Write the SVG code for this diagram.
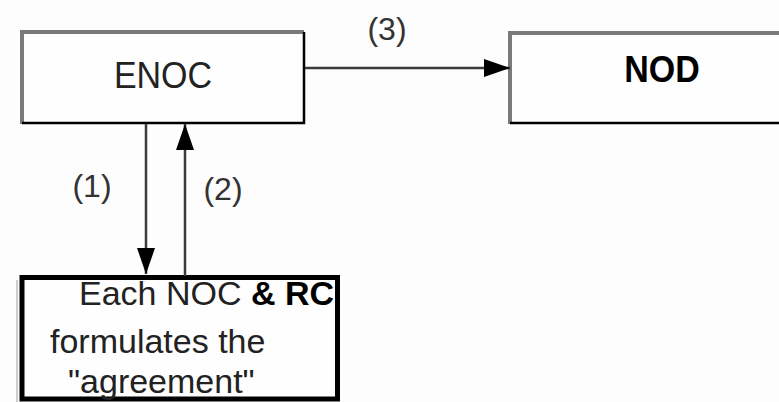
<svg xmlns="http://www.w3.org/2000/svg" width="779" height="402" viewBox="0 0 779 402">
  <style>
    .txt { font-family: "Liberation Sans", Arial, sans-serif; font-size: 34px; fill: #222; }
    .bold { font-weight: bold; fill: #000; }
    .lbl { font-family: "Liberation Sans", Arial, sans-serif; font-size: 32px; fill: #333; text-anchor: middle; }
    .edge { stroke: #3a3a3a; stroke-width: 2.5; fill: none; }
    .shade { stroke: #7a7a7a; stroke-width: 4; fill: none; }
    .dark { stroke: #000; stroke-width: 2.5; fill: none; }
  </style>
  <defs>
    <marker id="head" markerUnits="userSpaceOnUse" markerWidth="28" markerHeight="20" refX="26" refY="9" orient="auto">
      <path d="M0,0 L26,9 L0,18 Z" fill="#000"/>
    </marker>
  </defs>
  <rect width="779" height="402" fill="#fdfdfd"/>

  <g id="enoc">
    <rect x="22" y="32" width="282" height="91" fill="#fefefe"/>
    <path class="shade" d="M22,124 V32 H304"/>
    <path class="dark" d="M304,32 V123 H22"/>
    <text class="txt" x="163" y="88" text-anchor="middle" transform="translate(0,-8.8) scale(1,1.1)">ENOC</text>
  </g>

  <g id="nod">
    <rect x="510" y="32" width="280" height="91" fill="#fefefe"/>
    <path class="shade" d="M510,124 V33 H780"/>
    <path class="dark" d="M510,123 H780"/>
    <text class="txt bold" x="662" y="82" text-anchor="middle" transform="translate(0,-8.2) scale(1,1.1)">NOD</text>
  </g>

  <g id="noc-rc">
    <line x1="17" y1="280" x2="17" y2="402" stroke="#bdbdbd" stroke-width="1.5"/>
    <rect x="22" y="277.5" width="315.5" height="121.5" fill="#fefefe" stroke="#000" stroke-width="5"/>
    <text class="txt" x="79" y="305">Each NOC <tspan class="bold">&amp; RC</tspan></text>
    <text class="txt" x="50" y="353">formulates the</text>
    <text class="txt" x="68" y="393">"agreement"</text>
  </g>

  <g id="connectors">
    <line class="edge" x1="305" y1="68" x2="510" y2="68" marker-end="url(#head)"/>
    <line class="edge" x1="146" y1="124" x2="146" y2="274" marker-end="url(#head)"/>
    <line class="edge" x1="185" y1="276" x2="185" y2="124" marker-end="url(#head)"/>
    <text class="lbl" x="387" y="40">(3)</text>
    <text class="lbl" x="92" y="197">(1)</text>
    <text class="lbl" x="223" y="200">(2)</text>
  </g>
</svg>
